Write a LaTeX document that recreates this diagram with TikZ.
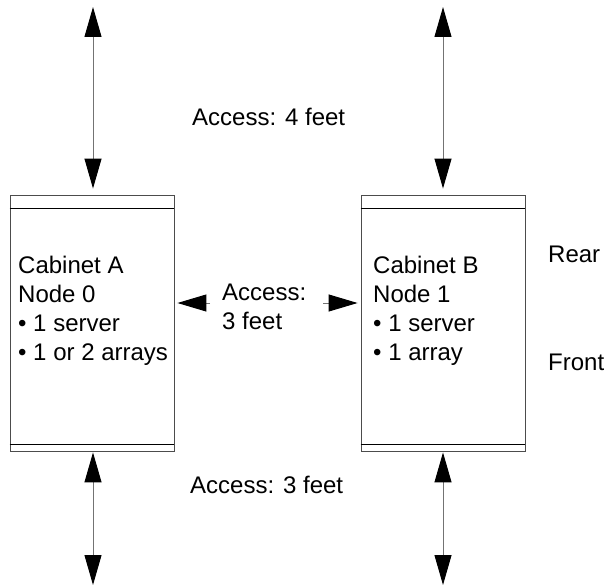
\documentclass[tikz,border=0pt]{standalone}
\usepackage{fontspec}
\setmainfont{Liberation Sans}
\usetikzlibrary{arrows.meta}
\tikzset{
  cab/.style={draw=black!70, line width=0.9pt, minimum width=164pt, minimum height=256pt, inner sep=0pt},
  bar/.style={line width=1.8pt, black},
  dbl/.style={draw=black!55, line width=1pt, {Triangle[length=30pt,width=17pt,color=black]}-{Triangle[length=30pt,width=17pt,color=black]}},
  sgl/.style={draw=black!55, line width=1pt, -{Triangle[length=29pt,width=17pt,color=black]}},
  txt/.style={anchor=base west, inner sep=0pt, font=\fontsize{24}{29}\selectfont},
}
\begin{document}
\begin{tikzpicture}[x=1pt,y=-1pt]
\useasboundingbox (0,0) rectangle (605,586);
% cabinets
\node[cab] (cabA) at (92,323) {};
\node[cab] (cabB) at (443,323) {};
\foreach \c in {cabA,cabB}{
  \draw[bar] ([yshift=-14pt]\c.north west) -- ([yshift=-14pt]\c.north east);
  \draw[bar] ([yshift=7pt]\c.south west) -- ([yshift=7pt]\c.south east);
}
% vertical arrows
\coordinate (aT) at (93,7);
\coordinate (aB) at (93,585);
\coordinate (bT) at (443,7);
\coordinate (bB) at (443,585);
\draw[dbl] (aT) -- ([xshift=1pt,yshift=6pt]cabA.north);
\draw[dbl] ([xshift=1pt,yshift=-1pt]cabA.south) -- (aB);
\draw[dbl] (bT) -- ([yshift=6pt]cabB.north);
\draw[dbl] ([yshift=-1pt]cabB.south) -- (bB);
% horizontal arrows
\coordinate (lT) at (210,303);
\coordinate (rT) at (323,303);
\draw[sgl] (lT) -- ([xshift=3pt,yshift=20pt]cabA.east);
\draw[sgl] (rT) -- ([xshift=-3pt,yshift=20pt]cabB.west);
% texts
\node[txt] (a1) at (18,273) {Cabinet A};
\node[txt] (a2) at (18,302) {Node 0};
\node[txt] (a3) at (18,331) {• 1 server};
\node[txt] (a4) at (18,360) {• 1 or 2 arrays};
\node[txt] (b1) at (373,273) {Cabinet B};
\node[txt] (b2) at (373,302) {Node 1};
\node[txt] (b3) at (373,331) {• 1 server};
\node[txt] (b4) at (373,360) {• 1 array};
\node[txt] (acc4) at (192,125) {Access: 4 feet};
\node[txt] (acc3a) at (222,300) {Access:};
\node[txt] (acc3b) at (222,329) {3 feet};
\node[txt] (acc3c) at (190,493) {Access: 3 feet};
\node[txt] (rear) at (548,262) {Rear};
\node[txt] (front) at (548,370) {Front};
\end{tikzpicture}
\end{document}
